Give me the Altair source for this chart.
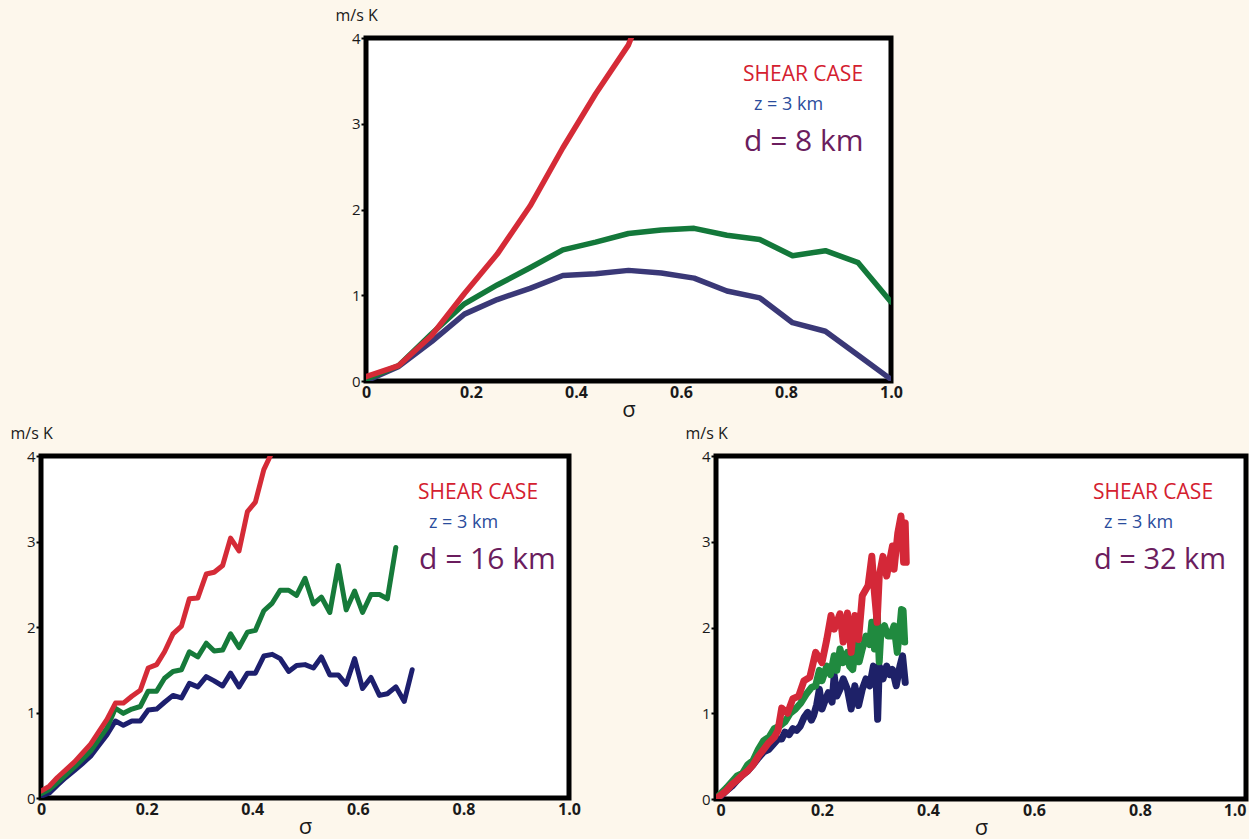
import altair as alt
import pandas as pd

# ---------------- data ----------------
# d = 8 km panel
sig8 = [0, 0.0625, 0.125, 0.1875, 0.25, 0.3125, 0.375, 0.4375, 0.5, 0.5625,
        0.625, 0.6875, 0.75, 0.8125, 0.875, 0.9375, 1.0]
red8 = [0.05, 0.18, 0.53, 1.02, 1.48, 2.04, 2.72, 3.35, 3.92, 4.9]
green8 = [0.02, 0.18, 0.55, 0.9, 1.12, 1.32, 1.53, 1.62, 1.72, 1.76, 1.78,
          1.7, 1.65, 1.46, 1.52, 1.38, 0.92]
navy8 = [0.0, 0.17, 0.46, 0.78, 0.95, 1.08, 1.23, 1.25, 1.29, 1.26, 1.2,
         1.05, 0.97, 0.68, 0.58, 0.3, 0.02]

# d = 16 km panel
sig16 = [0, 0.016, 0.031, 0.047, 0.063, 0.078, 0.094, 0.109, 0.125, 0.141,
         0.156, 0.172, 0.188, 0.203, 0.219, 0.234, 0.25, 0.266, 0.281, 0.297,
         0.313, 0.328, 0.344, 0.359, 0.375, 0.391, 0.406, 0.422, 0.438, 0.453,
         0.469, 0.484, 0.5, 0.516, 0.531, 0.547, 0.563, 0.578, 0.594, 0.609,
         0.625, 0.641, 0.656, 0.672, 0.688, 0.703]
red16 = [0.08, 0.14, 0.24, 0.33, 0.42, 0.52, 0.63, 0.77, 0.92, 1.11,
         1.11, 1.19, 1.26, 1.52, 1.56, 1.71, 1.92, 2.01, 2.33, 2.34,
         2.62, 2.64, 2.72, 3.04, 2.89, 3.35, 3.46, 3.84, 4.05]
green16 = [0.05, 0.1, 0.18, 0.27, 0.36, 0.45, 0.55, 0.68, 0.82, 1.05,
           0.99, 1.04, 1.07, 1.25, 1.25, 1.4, 1.48, 1.5, 1.71, 1.65,
           1.81, 1.72, 1.73, 1.92, 1.76, 1.94, 1.96, 2.19, 2.28, 2.43,
           2.43, 2.37, 2.57, 2.27, 2.35, 2.17, 2.72, 2.2, 2.42, 2.17,
           2.38, 2.38, 2.33, 2.93]
navy16 = [0.02, 0.06, 0.15, 0.24, 0.32, 0.4, 0.49, 0.61, 0.74, 0.9,
          0.85, 0.9, 0.9, 1.03, 1.04, 1.12, 1.2, 1.17, 1.34, 1.3,
          1.42, 1.37, 1.31, 1.46, 1.3, 1.46, 1.46, 1.66, 1.68, 1.63,
          1.48, 1.55, 1.56, 1.52, 1.65, 1.44, 1.44, 1.33, 1.63, 1.28,
          1.41, 1.2, 1.22, 1.3, 1.13, 1.5]

# d = 32 km panel
sig32_red = [0, 0.01, 0.02, 0.03, 0.04, 0.05, 0.06, 0.07, 0.08, 0.09, 0.1,
             0.11, 0.117, 0.124, 0.135, 0.145, 0.156, 0.166, 0.177, 0.188,
             0.2, 0.209, 0.217, 0.223, 0.234, 0.24, 0.248, 0.255, 0.262,
             0.269, 0.276, 0.287, 0.294, 0.299, 0.304, 0.308, 0.315, 0.322,
             0.333, 0.336, 0.343, 0.349, 0.354, 0.357, 0.359]
red32 = [0, 0.05, 0.1, 0.17, 0.22, 0.28, 0.33, 0.4, 0.5, 0.58, 0.66,
         0.72, 0.8, 1.06, 1.0, 1.17, 1.2, 1.38, 1.42, 1.71,
         1.59, 1.86, 2.14, 1.98, 2.16, 1.83, 2.17, 1.71, 2.14,
         1.86, 2.37, 2.49, 2.83, 2.4, 2.06, 2.6, 2.83, 2.6,
         2.95, 2.68, 3.1, 3.3, 2.76, 3.22, 2.76]
sig32_green = [0, 0.01, 0.02, 0.03, 0.04, 0.05, 0.06, 0.07, 0.08, 0.09, 0.1,
               0.11, 0.12, 0.13, 0.14, 0.15, 0.16, 0.17, 0.18, 0.188, 0.195,
               0.2, 0.209, 0.216, 0.223, 0.228, 0.234, 0.24, 0.248, 0.252,
               0.258, 0.265, 0.27, 0.276, 0.283, 0.29, 0.294, 0.299, 0.304,
               0.308, 0.311, 0.318, 0.324, 0.329, 0.336, 0.342, 0.347, 0.35,
               0.353, 0.356]
green32 = [0, 0.07, 0.13, 0.2, 0.27, 0.3, 0.4, 0.45, 0.58, 0.68, 0.72,
           0.82, 0.85, 0.9, 1.0, 1.05, 1.12, 1.22, 1.3, 1.32, 1.5,
           1.38, 1.55, 1.45, 1.67, 1.5, 1.75, 1.59, 1.71, 1.55,
           1.51, 1.86, 1.6, 1.75, 1.9, 1.8, 2.06, 1.75, 2.21,
           1.6, 1.94, 2.02, 1.9, 1.9, 2.02, 1.71, 2.0, 2.21,
           2.2, 1.83]
sig32_navy = [0, 0.01, 0.02, 0.03, 0.04, 0.05, 0.06, 0.07, 0.08, 0.09, 0.1,
              0.11, 0.117, 0.124, 0.13, 0.138, 0.145, 0.152, 0.159, 0.166,
              0.173, 0.18, 0.184, 0.19, 0.195, 0.2, 0.206, 0.212, 0.219,
              0.223, 0.228, 0.234, 0.24, 0.248, 0.255, 0.262, 0.269, 0.276,
              0.283, 0.29, 0.297, 0.302, 0.305, 0.308, 0.315, 0.322, 0.328,
              0.333, 0.34, 0.347, 0.352, 0.357]
navy32 = [0, 0.04, 0.1, 0.15, 0.22, 0.28, 0.33, 0.4, 0.48, 0.55, 0.58,
          0.65, 0.7, 0.7, 0.78, 0.75, 0.82, 0.8, 0.85, 0.95,
          1.01, 0.92, 0.97, 1.1, 1.28, 1.05, 1.15, 1.24, 1.13,
          1.44, 1.2, 1.28, 1.4, 1.28, 1.05, 1.32, 1.09, 1.28,
          1.4, 1.32, 1.55, 1.4, 0.93, 1.55, 1.4, 1.55, 1.45,
          1.51, 1.32, 1.55, 1.67, 1.36]

x_ticks = [0, 0.2, 0.4, 0.6, 0.8, 1.0]
y_ticks = [0, 1, 2, 3, 4]
case_label = "SHEAR CASE"
z_label = "z = 3 km"
d_labels = ["d = 8 km", "d = 16 km", "d = 32 km"]

FONT = "Open Sans"
BG = "#FDF7EC"


def make_panel(series, d_label, d_size, w, h, flush_last=False):
    xax = alt.Axis(values=x_ticks,
                   labelExpr="datum.value == 0 ? '0' : format(datum.value, '.1f')",
                   labelFont=FONT, labelFontSize=16, labelFontWeight="bold",
                   labelColor="#1a1a1a", labelPadding=3, tickSize=0,
                   domain=False, grid=False, labelFlush=flush_last,
                   title="σ", titleFont=FONT, titleFontSize=22,
                   titleFontWeight="normal", titleColor="#1a1a1a",
                   titlePadding=-1)
    yax = alt.Axis(values=y_ticks, format="d", labelFont=FONT,
                   labelFontSize=15, labelColor="#1a1a1a", labelPadding=1,
                   tickSize=5, tickWidth=2, tickColor="black",
                   domain=False, grid=False,
                   title="m/s K", titleFont=FONT, titleFontSize=16,
                   titleFontWeight="normal", titleColor="#1a1a1a",
                   titleAngle=0, titleAlign="left", titleBaseline="alphabetic",
                   titleX=-31, titleY=-18)
    xs = alt.Scale(domain=[0, 1], nice=False)
    ys = alt.Scale(domain=[0, 4], nice=False)
    layers = []
    for sig, val, color, sw in series:
        df = pd.DataFrame({"sigma": sig[:len(val)], "value": val})
        layers.append(
            alt.Chart(df).mark_line(color=color, strokeWidth=sw, clip=True,
                                    strokeJoin="round", strokeCap="round")
            .encode(x=alt.X("sigma:Q", scale=xs, axis=xax),
                    y=alt.Y("value:Q", scale=ys, axis=yax))
        )
    texts = [(case_label, "#D4202F", 21, 377, 43),
             (z_label, "#2A4C9C", 18, 388, 72),
             (d_label, "#6B1D5E", d_size, 378, 113)]
    for t, c, fs, px, py in texts:
        layers.append(
            alt.Chart(pd.DataFrame({"t": [t]})).mark_text(
                font=FONT, fontSize=fs, color=c, align="left",
                baseline="alphabetic")
            .encode(text="t:N", x=alt.value(px), y=alt.value(py))
        )
    return alt.layer(*layers).properties(
        width=w, height=h,
        view=alt.ViewBackground(fill="white", stroke="black", strokeWidth=5))


top = make_panel([(sig8, navy8, "#3A3877", 5.5), (sig8, green8, "#13783A", 5.5),
                  (sig8, red8, "#D52B37", 5.5)], d_labels[0], 30, 525, 343)
bl = make_panel([(sig16, navy16, "#1D1F6E", 5), (sig16, green16, "#167A3A", 5),
                 (sig16, red16, "#D52B37", 5)], d_labels[1], 30, 528, 342)
br = make_panel([(sig32_navy, navy32, "#1E2168", 7),
                 (sig32_green, green32, "#208A3F", 7),
                 (sig32_red, red32, "#D42838", 7)], d_labels[2], 29, 530, 343,
                flush_last=True)

spacer = alt.Chart(pd.DataFrame({"a": [0]})).mark_point(opacity=0, size=1).encode(
    x=alt.value(0), y=alt.value(0)).properties(
    width=325, height=343,
    view=alt.ViewBackground(fill="transparent", stroke="transparent"))

top_row = alt.hconcat(spacer, top, spacing=0, bounds="flush")
bottom_row = alt.hconcat(bl, br, spacing=147, bounds="flush")
chart = alt.vconcat(top_row, bottom_row, spacing=-1, bounds="full").properties(
    background=BG,
    padding={"left": 7, "top": 4, "right": 0, "bottom": 0})

chart.save("out.html", embed_options={"renderer": "svg", "actions": False})
